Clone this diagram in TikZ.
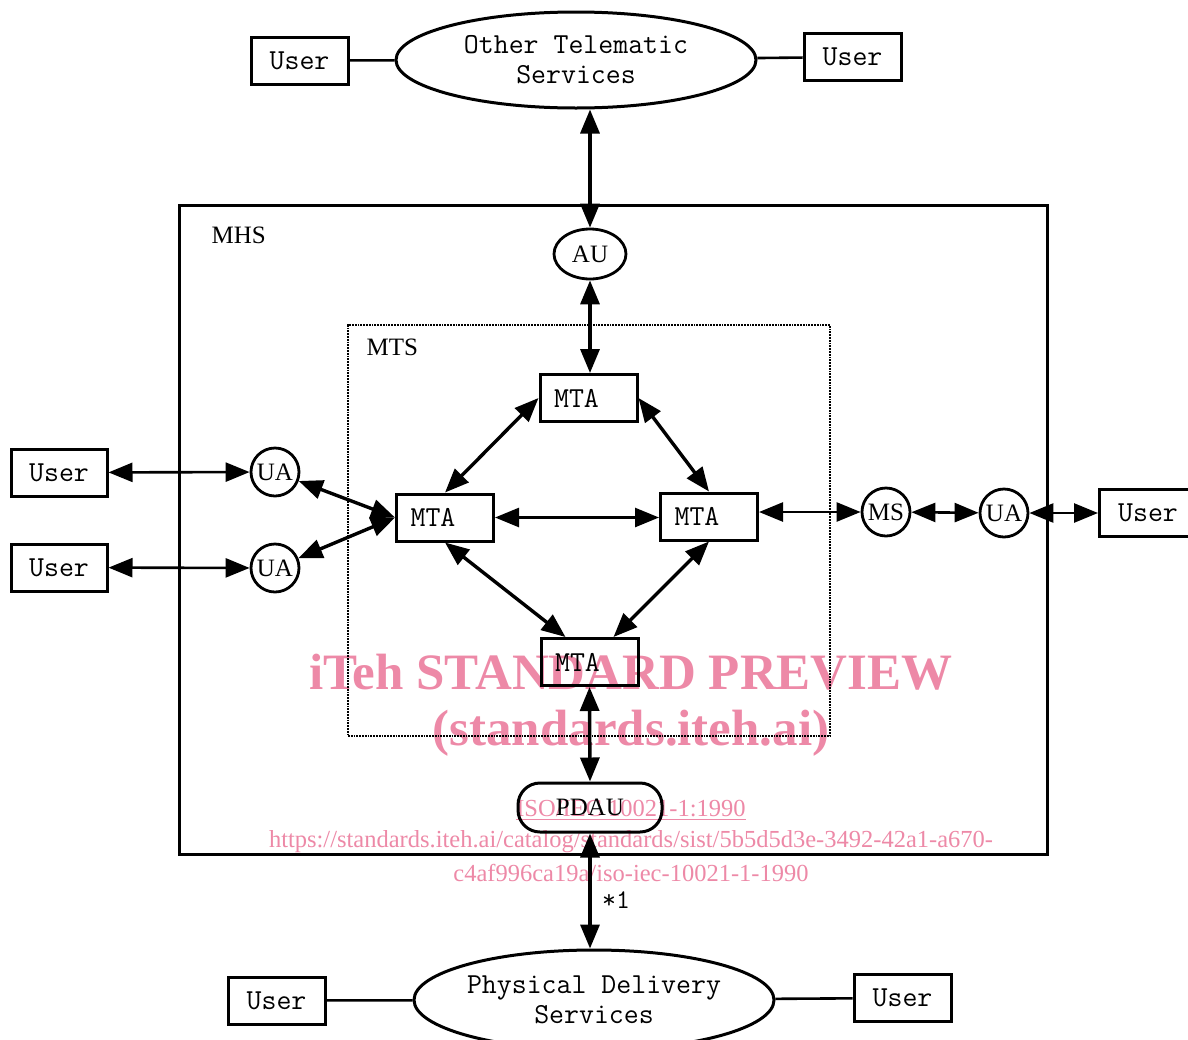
\documentclass[tikz,border=0pt]{standalone}
\usepackage{fontspec}
\setmainfont{Liberation Serif}
\usetikzlibrary{arrows.meta,shapes.geometric,calc}
\definecolor{wm}{RGB}{237,137,167}
\begin{document}
\begin{tikzpicture}[x=1pt,y=-1pt,
  >={Triangle[length=24pt,width=19pt]},
  box/.style={draw,line width=3pt,minimum width=97pt,minimum height=47pt,inner sep=0pt,font=\ttfamily\fontsize{29}{32}\selectfont},
  ell/.style={draw,ellipse,line width=3pt,inner sep=0pt,font=\ttfamily\fontsize{29}{30}\selectfont,align=center},
  circ/.style={draw,circle,line width=2.8pt,minimum size=48pt,inner sep=0pt,font=\fontsize{25}{27}\selectfont},
  lbl/.style={font=\fontsize{25}{27}\selectfont},
  dbl/.style={<->,line width=3.4pt},
  hdbl/.style={<->,line width=2.6pt},
  plain/.style={line width=2.6pt},
  wmbig/.style={text=wm,font=\bfseries\fontsize{51}{56}\selectfont},
  wmsmall/.style={text=wm,font=\fontsize{24.5}{28}\selectfont},
]
\useasboundingbox (0,0) rectangle (1188,1039);

% watermark (drawn first, under the diagram)
\node[wmbig] (wm1) at (631,672) {iTeh STANDARD PREVIEW};
\node[wmbig] (wm2) at (631,733) {(standards.iteh.ai)};
\node[wmsmall] (wm3) at (631,810) {\underline{ISO/IEC 10021-1:1990}};
\node[wmsmall] (wm4) at (631,842) {https://standards.iteh.ai/catalog/standards/sist/5b5d5d3e-3492-42a1-a670-};
\node[wmsmall] (wm5) at (631,873) {c4af996ca19a/iso-iec-10021-1-1990};

% frames
\node[draw,line width=3pt,minimum width=868pt,minimum height=649pt,inner sep=0pt] (mhs) at (613,529.5) {};
\node[lbl,anchor=west] (mhslbl) at (208,235) {MHS};
\node[draw,densely dotted,line width=1.8pt,minimum width=482pt,minimum height=411pt,inner sep=0pt] (mts) at (589,530.5) {};
\node[lbl,anchor=west] (mtslbl) at (363,347) {MTS};

% top services
\node[ell,minimum width=360pt,minimum height=96pt] (ots) at (576,60) {Other Telematic\\Services};
\node[box] (uTL) at (299.5,60.5) {User};
\node[box] (uTR) at (852.5,57) {User};
\draw[plain] (uTL) -- (ots);
\draw[plain] (ots) -- (uTR);

% bottom services
\node[ell,minimum width=360pt,minimum height=100pt] (pds) at (594,1000) {Physical Delivery\\Services};
\node[box] (uBL) at (276.5,1000.5) {User};
\node[box] (uBR) at (902.5,998) {User};
\draw[plain] (uBL) -- (pds);
\draw[plain] (pds) -- (uBR);

% access units
\node[draw,ellipse,line width=2.8pt,minimum width=72pt,minimum height=50pt,inner sep=0pt,lbl] (au) at (590,254) {AU};
\node[draw,rounded corners=22pt,line width=3pt,minimum width=144pt,minimum height=49pt,inner sep=0pt,lbl] (pdau) at (590,807.5) {PDAU};

% MTAs
\node[box] (mtaT) at (588.5,398) {MTA\hspace*{24pt}};
\node[box] (mtaL) at (445,517.5) {MTA\hspace*{24pt}};
\node[box] (mtaR) at (709,516.5) {MTA\hspace*{24pt}};
\node[box] (mtaB) at (589.5,662) {MTA\hspace*{24pt}};

% left users and UAs
\node[box,minimum width=96pt] (uL1) at (59,472.5) {User};
\node[box,minimum width=96pt] (uL2) at (59,567.5) {User};
\node[circ] (uaL1) at (275,472) {UA};
\node[circ] (uaL2) at (275,568) {UA};

% right side
\node[circ] (ms) at (886,512) {MS};
\node[circ] (uaR) at (1004,513) {UA};
\node[box] (uR) at (1148,512.5) {User};

% connectors
\draw[dbl] (au.north) -- (au.north |- ots.south);
\draw[dbl] (au.south) -- (au.south |- mtaT.north);
\draw[dbl] (mtaT.west) -- (mtaL.north);
\draw[dbl] (mtaT.east) -- (mtaR.north);
\draw[hdbl] (mtaL.east) -- (mtaR.west |- mtaL.east);
\draw[dbl] (mtaL.south) -- ([xshift=-24pt]mtaB.north);
\draw[dbl] (mtaR.south) -- ([xshift=24pt]mtaB.north);
\draw[dbl] (mtaB.south) -- (pdau.north);
\draw[->,line width=3.4pt] (pdau.south |- mhs.south) -- (pdau.south |- pds.north);
\draw[->,line width=3.4pt] (pdau.south |- mhs.south) -- (pdau.south);
\node[font=\ttfamily\fontsize{27}{28}\selectfont] (star) at (616,900) {*1};

\draw[hdbl] (uL1) -- (uaL1);
\draw[hdbl] (uL2) -- (uaL2);
\draw[dbl] (uaL1) -- (mtaL.west);
\draw[dbl] (uaL2) -- (mtaL.west);
\draw[hdbl] (mtaR.east |- ms) -- (ms);
\draw[hdbl] (ms) -- (uaR);
\draw[hdbl] (uaR) -- (uR.west |- uaR);
\end{tikzpicture}
\end{document}
